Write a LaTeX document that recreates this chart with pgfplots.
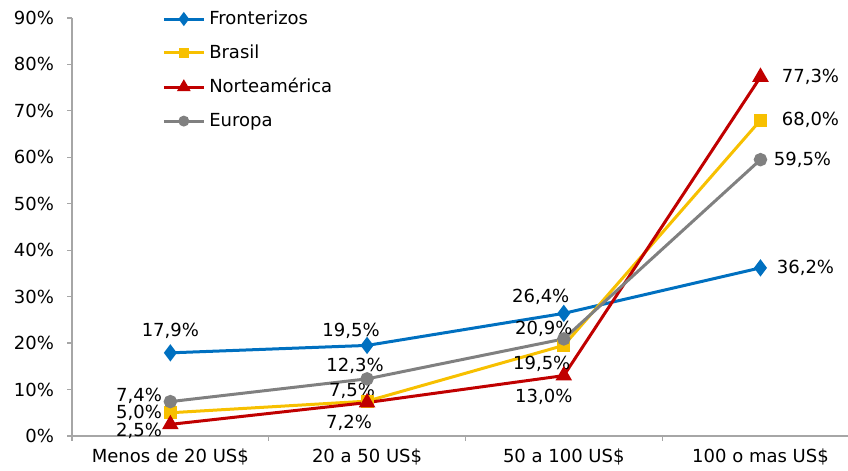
\documentclass[border=0pt]{standalone}
\usepackage{pgfplots}
\pgfplotsset{compat=1.18}
\usepackage{fontspec}
\setmainfont{DejaVu Sans}
\definecolor{cfro}{HTML}{0070C0}
\definecolor{cbra}{HTML}{F7C000}
\definecolor{cnor}{HTML}{C00000}
\definecolor{ceur}{HTML}{808080}
\definecolor{caxis}{HTML}{A6A6A6}
\tikzset{lbl/.style={font=\fontsize{9}{10}\selectfont, inner sep=1pt}}
\begin{document}
\begin{tikzpicture}
\begin{axis}[
  name=ax,
  scale only axis, width=388pt, height=209pt,
  xmin=-0.5, xmax=3.445, ymin=0, ymax=90,
  axis lines=left, axis line style={caxis, line width=0.6pt, -},
  ytick={0,10,...,90},
  yticklabel={\pgfmathprintnumber{\tick}\%},
  xtick={-0.5,0.5,1.5,2.5}, xticklabels={},
  extra x ticks={0,1,2,3},
  extra x tick labels={Menos de 20 US\$, 20 a 50 US\$, 50 a 100 US\$, 100 o mas US\$},
  extra x tick style={major tick length=0pt},
  tick align=outside, major tick length=2.5pt,
  tick style={caxis, line width=0.6pt},
  /pgf/number format/assume math mode=true,
  tick label style={font=\fontsize{9}{10}\selectfont, black},
  yticklabel style={xshift=-3pt},
  xticklabel style={yshift=-3pt},
  legend style={at={(0.116,1.028)}, anchor=north west, draw=none, fill=none,
    font=\fontsize{9}{10}\selectfont, row sep=4.6pt, inner sep=0pt},
  legend cell align=left,
  legend image code/.code={
    \draw[#1, mark options={scale=0.75}, mark repeat=2, mark phase=2]
      plot coordinates {(0cm,0cm) (0.35cm,0cm) (0.7cm,0cm)};},
  clip=false,
]
\addplot[cfro, line width=1.5pt, mark=diamond*, mark size=3.1pt] coordinates {(0,17.9)(1,19.5)(2,26.4)(3,36.2)};
\addlegendentry{Fronterizos}
\addplot[cbra, line width=1.5pt, mark=square*, mark size=2.5pt] coordinates {(0,5.0)(1,7.5)(2,19.5)(3,68.0)};
\addlegendentry{Brasil}
\addplot[cnor, line width=1.5pt, mark=triangle*, mark size=3.3pt] coordinates {(0,2.5)(1,7.2)(2,13.0)(3,77.3)};
\addlegendentry{Norteamérica}
\addplot[ceur, line width=1.5pt, mark=*, mark size=2.6pt] coordinates {(0,7.4)(1,12.3)(2,20.9)(3,59.5)};
\addlegendentry{Europa}

% Fronterizos labels
\node[lbl, above=6pt] at (axis cs:0,17.9) {17,9\%};
\node[lbl, above=2pt, xshift=-8pt] at (axis cs:1,19.5) {19,5\%};
\node[lbl, above=3pt, xshift=-11.5pt] at (axis cs:2,26.4) {26,4\%};
\node[lbl, right=7pt] at (axis cs:3,36.2) {36,2\%};
% Brasil labels
\node[lbl, left=3pt] at (axis cs:0,5.0) {5,0\%};
\node[lbl, above=0pt, xshift=-7.5pt] at (axis cs:1,7.5) {7,5\%};
\node[lbl, below=4pt, xshift=-11pt] at (axis cs:2,19.5) {19,5\%};
\node[lbl, right=9.5pt] at (axis cs:3,68.0) {68,0\%};
% Norteamerica labels
\node[lbl, left=3pt, yshift=-3pt] at (axis cs:0,2.5) {2,5\%};
\node[lbl, below=5pt, xshift=-9pt] at (axis cs:1,7.2) {7,2\%};
\node[lbl, below=5.5pt, xshift=-10pt] at (axis cs:2,13.0) {13,0\%};
\node[lbl, right=9.5pt] at (axis cs:3,77.3) {77,3\%};
% Europa labels
\node[lbl, left=3pt, yshift=3pt] at (axis cs:0,7.4) {7,4\%};
\node[lbl, above=1.5pt, xshift=-6pt] at (axis cs:1,12.3) {12,3\%};
\node[lbl, anchor=south, xshift=-10pt, yshift=0pt] at (axis cs:2,20.9) {20,9\%};
\node[lbl, right=5.5pt] at (axis cs:3,59.5) {59,5\%};
\end{axis}
\pgfresetboundingbox
\path ([shift={(-36pt,-17.5pt)}]ax.south west) rectangle ([shift={(0pt,9pt)}]ax.north east);
\end{tikzpicture}
\end{document}
